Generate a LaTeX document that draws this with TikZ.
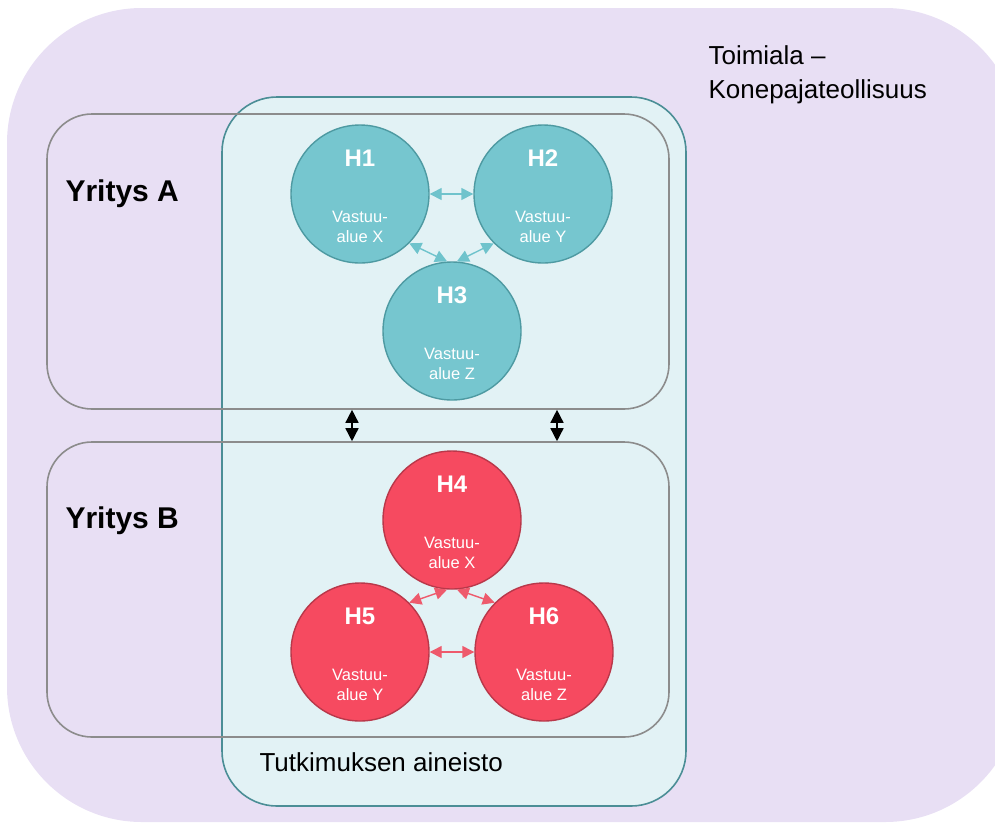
\documentclass[tikz,border=0pt]{standalone}
\usepackage{fontspec}
\setmainfont{Liberation Sans}
\usetikzlibrary{arrows.meta,calc}
\definecolor{bgpurple}{HTML}{E8DFF4}
\definecolor{studyfill}{HTML}{E2F2F5}
\definecolor{studyline}{HTML}{4B8E96}
\definecolor{firmline}{HTML}{8C8C8C}
\definecolor{tealfill}{HTML}{76C6CF}
\definecolor{tealline}{HTML}{4E9AA2}
\definecolor{tealarrow}{HTML}{6FC3CC}
\definecolor{redfill}{HTML}{F64A60}
\definecolor{redline}{HTML}{B9384A}
\definecolor{redarrow}{HTML}{EE5A6C}
\tikzset{
  firmbox/.style={draw=firmline, line width=1.6pt, rounded corners=45pt,
    minimum width=622pt, minimum height=295pt, inner sep=0pt},
  studybox/.style={draw=studyline, fill=studyfill, line width=1.6pt, rounded corners=55pt,
    minimum width=464pt, minimum height=709pt, inner sep=0pt},
  person/.style={circle, line width=1.4pt, minimum size=138pt, inner sep=0pt},
  tealperson/.style={person, fill=tealfill, draw=tealline},
  redperson/.style={person, fill=redfill, draw=redline},
  pid/.style={anchor=base, text=white, font=\bfseries\fontsize{24}{28}\selectfont},
  prole/.style={anchor=base, text=white, font=\fontsize{16.5}{20}\selectfont},
  tealarr/.style={draw=tealarrow, line width=1.4pt,
    {Triangle[width=12pt,length=12pt]}-{Triangle[width=12pt,length=12pt]}},
  redarr/.style={draw=redarrow, line width=1.4pt,
    {Triangle[width=12pt,length=12pt]}-{Triangle[width=12pt,length=12pt]}},
  linkarr/.style={draw=black, line width=1.5pt,
    {Triangle[width=13pt,length=13pt]}-{Triangle[width=13pt,length=13pt]}},
  firmlabel/.style={anchor=base west, font=\bfseries\fontsize{30}{34}\selectfont},
  plainlabel/.style={anchor=base west, font=\fontsize{26}{32}\selectfont},
}
\begin{document}
\begin{tikzpicture}[x=1pt, y=-1pt]
\useasboundingbox (0,0) rectangle (995,823);

% industry background
\begin{scope}
  \clip (0,0) rectangle (995,823);
  \fill[bgpurple, rounded corners=135pt] (7,8) rectangle (1020,822);
\end{scope}
\node[plainlabel] (ind1) at (705,64) {Toimiala --};
\node[plainlabel] (ind2) at (705,98) {Konepajateollisuus};

% research material
\node[studybox] (study) at (454,451.5) {};
\node[plainlabel] (studylbl) at (256,771) {Tutkimuksen aineisto};

% companies
\node[firmbox] (A) at (358,261.5) {};
\node[firmbox] (B) at (358,589.5) {};
\node[firmlabel] (Albl) at (62,201) {Yritys A};
\node[firmlabel] (Blbl) at (62,528) {Yritys B};

% links between the companies
\draw[linkarr] ([xshift=-6pt]A.south) -- ([xshift=-6pt]B.north);
\draw[linkarr] ([xshift=199pt]A.south) -- ([xshift=199pt]B.north);

% people of company A
\node[tealperson] (H1) at (360,194) {};
\node[tealperson] (H2) at (543,194) {};
\node[tealperson] (H3) at (452,331) {};
% people of company B
\node[redperson] (H4) at (452,520) {};
\node[redperson] (H5) at (360,652) {};
\node[redperson] (H6) at (544,652) {};

\foreach \n/\r in {H1/X, H2/Y, H3/Z, H4/X, H5/Y, H6/Z}{
  \node[pid] (\n id) at ($(\n)+(0,-28)$) {\n};
  \node[prole] (\n r1) at ($(\n)+(0,28)$) {Vastuu-};
  \node[prole] (\n r2) at ($(\n)+(0,48)$) {alue \r};
}

% relations inside company A
\draw[tealarr] (H1) -- (H2);
\draw[tealarr] (H1.-45) -- (H3.94);
\draw[tealarr] (H2.-135) -- (H3.86);
% relations inside company B
\draw[redarr] (H5) -- (H6);
\draw[redarr] (H5.45) -- (H4.-94);
\draw[redarr] (H6.135) -- (H4.-86);
\end{tikzpicture}
\end{document}
